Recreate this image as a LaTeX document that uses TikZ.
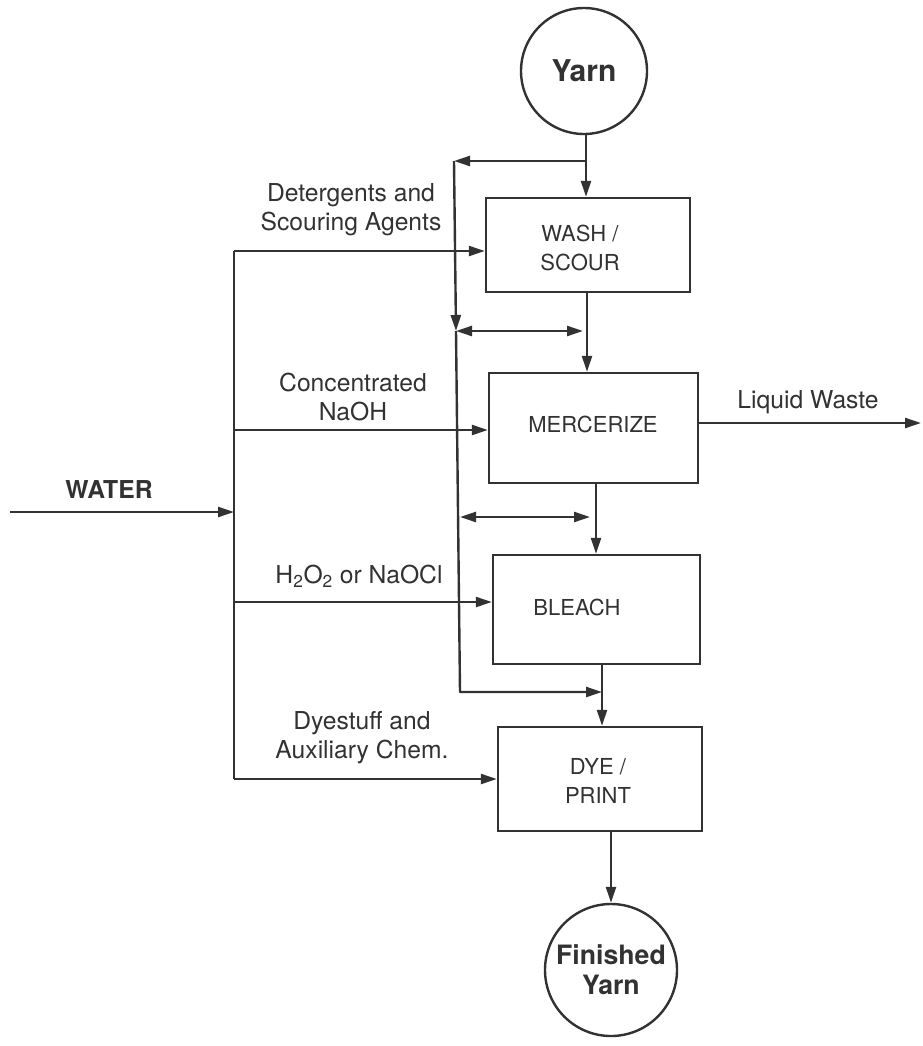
\documentclass[tikz,border=0pt]{standalone}
\usepackage{fontspec}
\setmainfont{TeX Gyre Heros}
\usetikzlibrary{arrows.meta}
\definecolor{ink}{RGB}{50,50,50}
\begin{document}
\begin{tikzpicture}[x=0.75pt,y=-0.75pt,
  ln/.style={draw=ink, line width=1.8pt, line join=round},
  arr/.style={-{Triangle[length=12pt,width=7.5pt]}},
  barr/.style={{Triangle[length=12pt,width=7.5pt]}-{Triangle[length=12pt,width=7.5pt]}},
  box/.style={draw=ink, line width=1.8pt, rectangle, inner sep=0pt},
  btxt/.style={text=ink, align=center, font=\fontsize{16.5}{21.5}\selectfont},
  lab/.style={text=ink, align=center, font=\fontsize{18.5}{21.8}\selectfont},
  circ/.style={draw=ink, line width=1.8pt, circle, inner sep=0pt, text=ink, align=center}]
\useasboundingbox (0,0) rectangle (922,1046);
% terminals
\node[circ, minimum size=94.5pt, font=\bfseries\fontsize{22.5}{26}\selectfont] (yarn) at (584,71) {Yarn};
\node[circ, minimum size=99pt, font=\bfseries\fontsize{20}{22.5}\selectfont] (fin) at (611,970) {Finished\\Yarn};
% process boxes
\node[box, minimum width=153pt, minimum height=70.5pt] (wash) at (588,245) {};
\node[box, minimum width=156.75pt, minimum height=82.5pt] (merc) at (593.5,428) {};
\node[box, minimum width=155.25pt, minimum height=81.75pt] (bleach) at (596.5,609.5) {};
\node[box, minimum width=153pt, minimum height=78pt] (dye) at (600,779) {};
\node[btxt] (washt) at (580,248) {WASH /\\SCOUR};
\node[btxt] (merct) at (593,424) {MERCERIZE};
\node[btxt] (bleacht) at (577,607) {BLEACH};
\node[btxt] (dyet) at (598,781) {DYE /\\PRINT};
% labels
\node[lab] (l1) at (351,210) {Detergents and\\Scouring Agents};
\node[lab] (l2) at (353,397) {Concentrated\\NaOH};
\node[lab] (l3) at (359,576) {H\textsubscript{2}O\textsubscript{2} or NaOCl};
\node[lab] (l4) at (362,738) {Dyestuff and\\Auxiliary Chem.};
\node[lab] (l5) at (808,402) {Liquid Waste};
\node[text=ink, font=\bfseries\fontsize{18.5}{22}\selectfont] (lw) at (109,490) {WATER};
% coordinates
\coordinate (ysplit) at (586,161);
\coordinate (rtop) at (454,161);
\coordinate (rmid) at (456,331);
\coordinate (rbot) at (460,692);
\coordinate (jd) at (602,692);
\coordinate (b1r) at (583,331);
\coordinate (b2l) at (460,517);
\coordinate (b2r) at (590,517);
\coordinate (x1) at (587,0);
\coordinate (x2) at (596,0);
\coordinate (x3) at (602,0);
\coordinate (w1) at (234,251);
\coordinate (w2) at (234,430);
\coordinate (wj) at (234,512);
\coordinate (w3) at (234,602);
\coordinate (w4) at (234,779);
\coordinate (win) at (10,512);
\coordinate (lwend) at (921,423);
% main flow
\draw[ln,arr] (yarn.south -| ysplit) -- (ysplit |- wash.north);
\draw[ln,arr] (x1 |- wash.south) -- (x1 |- merc.north);
\draw[ln,arr] (x2 |- merc.south) -- (x2 |- bleach.north);
\draw[ln,arr] (x3 |- bleach.south) -- (x3 |- dye.north);
\draw[ln,arr] (fin.north |- dye.south) -- (fin.north);
% recycle loop
\draw[ln,arr] (ysplit) -- (rtop);
\draw[ln,arr] (rtop) -- (rmid);
\draw[ln,arr] (rmid) -- (rbot) -- (jd);
\draw[ln,barr] (rmid) -- (b1r);
\draw[ln,barr] (b2l) -- (b2r);
% water supply
\draw[ln,arr] (win) -- (wj);
\draw[ln] (w1) -- (w4);
\draw[ln,arr] (w1) -- (w1 -| wash.west);
\draw[ln,arr] (w2) -- (w2 -| merc.west);
\draw[ln,arr] (w3) -- (w3 -| bleach.west);
\draw[ln,arr] (w4) -- (w4 -| dye.west);
% liquid waste
\draw[ln,arr] (lwend -| merc.east) -- (lwend);
\end{tikzpicture}
\end{document}
